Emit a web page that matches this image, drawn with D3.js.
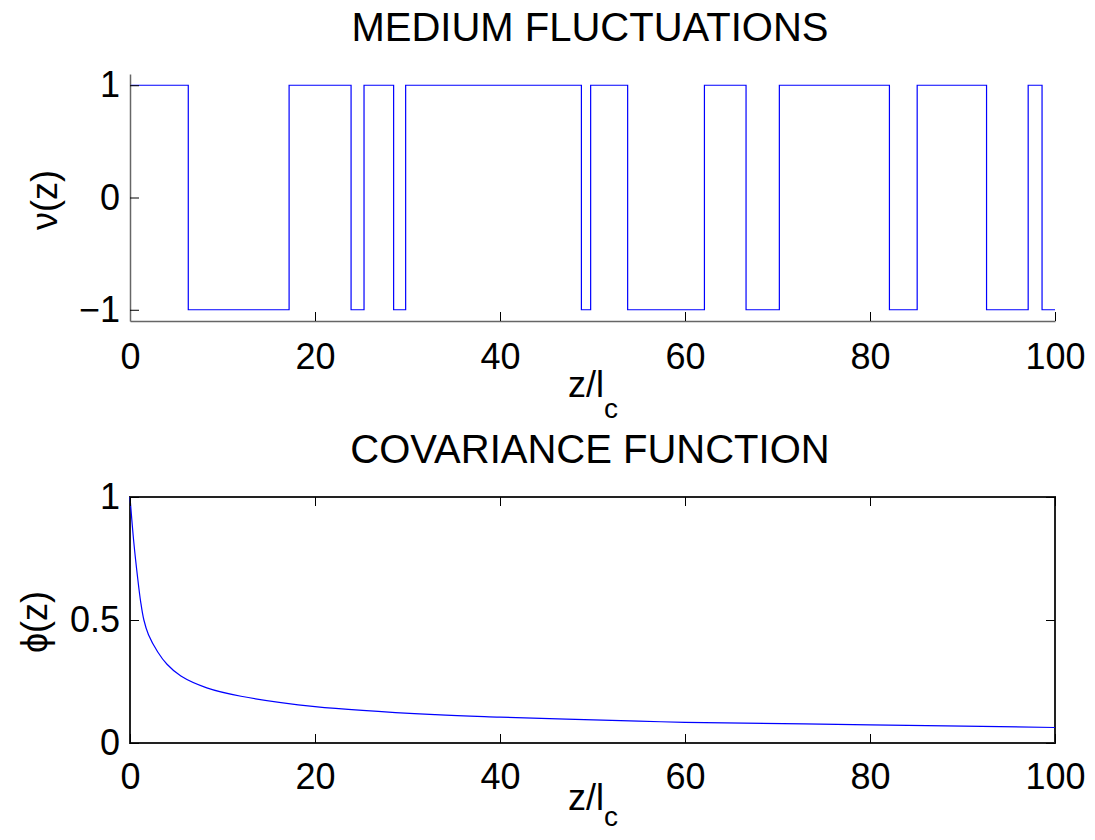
<!DOCTYPE html>
<html>
<head>
<meta charset="utf-8">
<script src="https://cdn.jsdelivr.net/npm/d3@7"></script>
<style>
  body { margin: 0; background: #fff; }
  svg text { font-family: "Liberation Sans", Arial, Helvetica, sans-serif; fill: #000; }
</style>
</head>
<body>
<div id="chart"></div>
<script>
// medium fluctuations: switching positions z/l_c and the level taken from there on
var switchZ = [0, 6.3, 17.2, 23.9, 25.3, 28.5, 29.8, 48.8, 49.8, 53.8, 62.1, 66.6, 70.2, 82.1, 85.1, 92.6, 97.1, 98.6, 100];
var switchV = [1, -1, 1, -1, 1, -1, 1, -1, 1, -1, 1, -1, 1, -1, 1, -1, 1, -1, -1];

// covariance function
var covZ   = [0, 0.4, 0.8, 1.15, 1.5, 2, 3, 4, 5.5, 8.3, 12, 20, 33, 40, 55, 60, 80, 100];
var covPhi = [1, 0.82, 0.68, 0.575, 0.50, 0.44, 0.37, 0.32, 0.272, 0.224, 0.19, 0.148, 0.115, 0.105, 0.089, 0.084, 0.074, 0.063];

var xTicks = [0, 20, 40, 60, 80, 100];
var vTicks = [-1, 0, 1];
var phiTicks = [0, 0.5, 1];

var w = 1095, h = 840;
var svg = d3.select("#chart").append("svg")
    .attr("width", w)
    .attr("height", h);

var left = 130, right = 1055;
var tickFont = 36;

// ---------- top panel ----------
var x1 = d3.scaleLinear().domain([0, 100]).range([left, right]);
var y1 = d3.scaleLinear().domain([-1.1, 1.1]).range([321, 74]);

var stepData = switchZ.map(function(z, i) { return { z: z, v: switchV[i] }; });

svg.append("path")
    .datum(stepData)
    .attr("fill", "none")
    .attr("stroke", "#0000ff")
    .attr("stroke-width", 1.2)
    .attr("d", d3.line()
        .curve(d3.curveStepAfter)
        .x(function(d) { return x1(d.z); })
        .y(function(d) { return y1(d.v); }));

var xAxis1 = svg.append("g")
    .attr("transform", "translate(0," + y1.range()[0] + ")")
    .call(d3.axisBottom(x1).tickValues(xTicks).tickSizeInner(-9).tickSizeOuter(0).tickPadding(22));

var yAxis1 = svg.append("g")
    .attr("transform", "translate(" + left + ",0)")
    .call(d3.axisLeft(y1).tickValues(vTicks).tickSizeInner(-9).tickSizeOuter(0).tickPadding(10)
        .tickFormat(function(d) { return d < 0 ? "\u2212" + Math.abs(d) : d; }));

[xAxis1, yAxis1].forEach(function(a) {
    a.select(".domain").attr("stroke", "#666").attr("stroke-width", 1.5);
    a.selectAll(".tick line").attr("stroke", "#000");
    a.selectAll("text").attr("font-size", tickFont).attr("fill", "#000");
});

svg.append("text")
    .attr("x", 590)
    .attr("y", 41)
    .attr("text-anchor", "middle")
    .attr("font-size", 40)
    .text("MEDIUM FLUCTUATIONS");

// x label z/l_c
function xLabel(cx, base, sub) {
    var t = svg.append("text")
        .attr("x", cx)
        .attr("y", base)
        .attr("text-anchor", "middle")
        .attr("font-size", tickFont);
    t.append("tspan").text("z/l");
    t.append("tspan").attr("font-size", 28).attr("dy", sub).text("c");
}
xLabel(593, 397, 21);

svg.append("text")
    .attr("transform", "translate(57,200) rotate(-90)")
    .attr("text-anchor", "middle")
    .attr("font-size", tickFont)
    .text("\u03bd(z)");

// ---------- bottom panel ----------
var x2 = d3.scaleLinear().domain([0, 100]).range([left, right]);
var y2 = d3.scaleLinear().domain([0, 1]).range([743, 497]);

svg.append("rect")
    .attr("x", left)
    .attr("y", y2(1))
    .attr("width", right - left)
    .attr("height", y2(0) - y2(1))
    .attr("fill", "none")
    .attr("stroke", "#222")
    .attr("stroke-width", 2);

var covData = covZ.map(function(z, i) { return { z: z, p: covPhi[i] }; });

svg.append("path")
    .datum(covData)
    .attr("fill", "none")
    .attr("stroke", "#0000ff")
    .attr("stroke-width", 1.2)
    .attr("d", d3.line()
        .curve(d3.curveCatmullRom.alpha(0.5))
        .x(function(d) { return x2(d.z); })
        .y(function(d) { return y2(d.p); }));

var axes2 = [
    svg.append("g").attr("transform", "translate(0," + y2(0) + ")")
        .call(d3.axisBottom(x2).tickValues(xTicks).tickSizeInner(-9).tickSizeOuter(0).tickPadding(20)),
    svg.append("g").attr("transform", "translate(0," + y2(1) + ")")
        .call(d3.axisTop(x2).tickValues(xTicks).tickSizeInner(-9).tickSizeOuter(0).tickFormat("")),
    svg.append("g").attr("transform", "translate(" + left + ",0)")
        .call(d3.axisLeft(y2).tickValues(phiTicks).tickSizeInner(-9).tickSizeOuter(0).tickPadding(10)
            .tickFormat(function(d) { return String(d); })),
    svg.append("g").attr("transform", "translate(" + right + ",0)")
        .call(d3.axisRight(y2).tickValues(phiTicks).tickSizeInner(-9).tickSizeOuter(0).tickFormat(""))
];
axes2.forEach(function(a) {
    a.select(".domain").remove();
    a.selectAll(".tick line").attr("stroke", "#000");
    a.selectAll("text").attr("font-size", tickFont).attr("fill", "#000");
});

svg.append("text")
    .attr("x", 590)
    .attr("y", 463)
    .attr("text-anchor", "middle")
    .attr("font-size", 40)
    .text("COVARIANCE FUNCTION");

xLabel(593, 810, 16);

svg.append("text")
    .attr("transform", "translate(47,622) rotate(-90)")
    .attr("text-anchor", "middle")
    .attr("font-size", tickFont)
    .text("\u03d5(z)");
</script>
</body>
</html>
